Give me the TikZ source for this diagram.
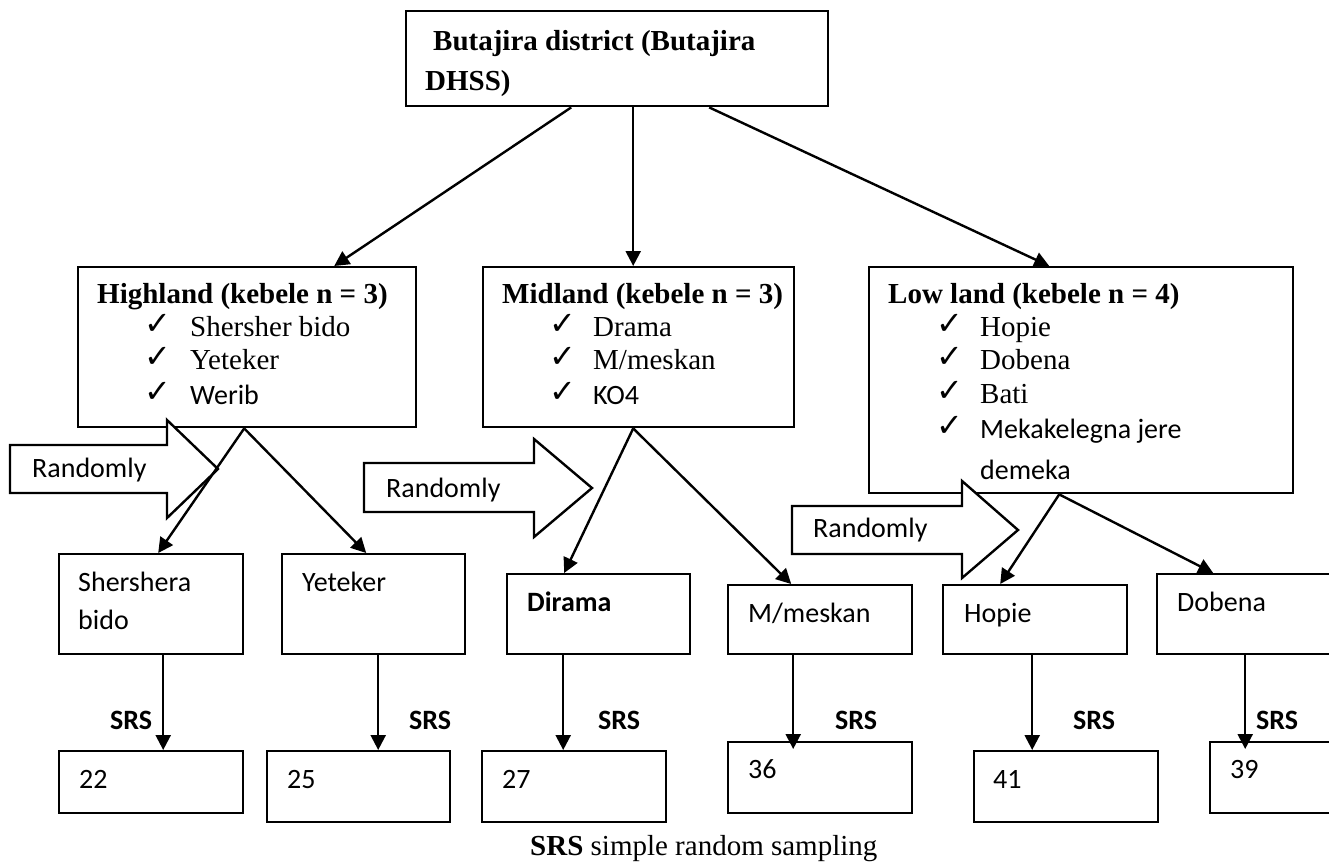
\documentclass[tikz,border=0pt]{standalone}
\usepackage{fontspec}
\setmainfont{Liberation Serif}
\newfontfamily\calfont{Carlito}
\newfontfamily\chkfont{DejaVu Sans}
\usetikzlibrary{arrows.meta}
\newcommand{\bx}[5]{\node[box, anchor=north west, minimum width={#4pt-#2pt}, minimum height={#5pt-#3pt}] (#1) at (#2,#3) {};}
\begin{document}
\begin{tikzpicture}[x=1pt,y=-1pt,
  box/.style={draw, line width=2.4pt, inner sep=0pt},
  arr/.style={line width=2.4pt, -{Triangle[length=15pt,width=15pt]}},
  blk/.style={draw, line width=2.4pt, fill=white, line join=miter},
  hd/.style={inner sep=0pt, anchor=base west, font=\fontsize{29}{34}\selectfont\bfseries},
  tm/.style={inner sep=0pt, anchor=base west, font=\fontsize{29}{34}\selectfont},
  cb/.style={inner sep=0pt, anchor=base west, font=\calfont\fontsize{28}{34}\selectfont},
  cbb/.style={inner sep=0pt, anchor=base west, font=\calfont\fontsize{28}{34}\selectfont\bfseries},
  ck/.style={inner sep=0pt, anchor=base west, font=\chkfont\fontsize{32}{36}\selectfont}]
\path[use as bounding box] (0,0) rectangle (1329,865);
\clip (0,0) rectangle (1329,865);

% boxes
\bx{top}{405}{10}{827}{105}
\bx{high}{77}{266}{415}{426}
\bx{mid}{482}{266}{793}{426}
\bx{low}{868}{266}{1292}{492}
\bx{sh}{58}{553}{242}{653}
\bx{ye}{281}{553}{464}{653}
\bx{di}{506}{573}{689}{653}
\bx{mm}{727}{584}{911}{653}
\bx{ho}{942}{584}{1126}{653}
\bx{do}{1156}{573}{1340}{653}
\bx{n22}{58}{750}{242}{812}
\bx{n25}{266}{750}{449}{821}
\bx{n27}{481}{750}{665}{821}
\bx{n36}{727}{741}{911}{812}
\bx{n41}{973}{750}{1157}{821}
\bx{n39}{1209}{741}{1340}{812}

% top texts
\node[hd] (t1) at (433,50) {Butajira district (Butajira};
\node[hd] (t2) at (425,90) {DHSS)};

% highland
\node[hd] (h0) at (97,303) {Highland (kebele n = 3)};
\node[ck] (hc1) at (144,334) {✓};
\node[ck] (hc2) at (144,367) {✓};
\node[ck] (hc3) at (144,402) {✓};
\node[tm] (h1) at (190,336) {Shersher bido};
\node[tm] (h2) at (190,369) {Yeteker};
\node[cb] (h3) at (190,404) {Werib};

% midland
\node[hd] (m0) at (502,303) {Midland (kebele n = 3)};
\node[ck] (mc1) at (549,334) {✓};
\node[ck] (mc2) at (549,367) {✓};
\node[ck] (mc3) at (549,402) {✓};
\node[tm] (m1) at (593,336) {Drama};
\node[tm] (m2) at (593,369) {M/meskan};
\node[cb] (m3) at (593,404) {KO4};

% lowland
\node[hd] (l0) at (888,303) {Low land (kebele n = 4)};
\node[ck] (lc1) at (936,334) {✓};
\node[ck] (lc2) at (936,367) {✓};
\node[ck] (lc3) at (936,401) {✓};
\node[ck] (lc4) at (936,436) {✓};
\node[tm] (l1) at (980,336) {Hopie};
\node[tm] (l2) at (980,369) {Dobena};
\node[tm] (l3) at (980,403) {Bati};
\node[cb] (l4) at (980,438) {Mekakelegna jere};
\node[cb] (l5) at (980,479) {demeka};

% block arrows
\draw[blk] (10,445) -- (167,445) -- (167,420) -- (218,469) -- (167,518) -- (167,493) -- (10,493) -- cycle;
\node[cb] (r1) at (32,477) {Randomly};
\draw[blk] (364,463) -- (534,463) -- (534,439) -- (592,488) -- (534,537) -- (534,512) -- (364,512) -- cycle;
\node[cb] (r2) at (386,497) {Randomly};
\draw[blk] (792,506) -- (962,506) -- (962,481) -- (1018,530) -- (962,578) -- (962,554) -- (792,554) -- cycle;
\node[cb] (r3) at (813,537) {Randomly};

% level-2 texts
\node[cb] (s1) at (78,591) {Shershera};
\node[cb] (s2) at (78,629) {bido};
\node[cb] (y1) at (302,591) {Yeteker};
\node[cbb] (d1) at (527,611) {Dirama};
\node[cb] (mm1) at (748,622) {M/meskan};
\node[cb] (ho1) at (964,622) {Hopie};
\node[cb] (do1) at (1177,611) {Dobena};

% numbers
\node[cb] (v22) at (79,788) {22};
\node[cb] (v25) at (287,788) {25};
\node[cb] (v27) at (502,788) {27};
\node[cb] (v36) at (748,778) {36};
\node[cb] (v41) at (993,788) {41};
\node[cb] (v39) at (1230,778) {39};

% SRS labels
\node[cbb] (q1) at (110,729) {SRS};
\node[cbb] (q2) at (409,729) {SRS};
\node[cbb] (q3) at (598,729) {SRS};
\node[cbb] (q4) at (835,729) {SRS};
\node[cbb] (q5) at (1073,729) {SRS};
\node[cbb] (q6) at (1256,729) {SRS};

% connectors level 1
\draw[arr] ([xshift=-46pt]top.south) -- ([xshift=87pt]high.north);
\draw[arr] ([xshift=16pt]top.south) -- ([xshift=-5.5pt]mid.north);
\draw[arr] ([xshift=92pt]top.south) -- ([xshift=-32pt]low.north);

% connectors level 2
\draw[arr] ([xshift=-3pt]high.south) -- ([xshift=7pt]sh.north);
\draw[arr] ([xshift=-3pt]high.south) -- ([xshift=-7.5pt]ye.north);
\draw[arr] ([xshift=-5.5pt]mid.south) -- ([xshift=-34.5pt]di.north);
\draw[arr] ([xshift=-5.5pt]mid.south) -- ([xshift=-29pt]mm.north);
\draw[arr] ([xshift=-22pt]low.south) -- ([xshift=-35pt]ho.north);
\draw[arr] ([xshift=-22pt]low.south) -- ([xshift=-36pt]do.north);

% SRS connectors
\draw[arr] ([xshift=12pt]sh.south) -- ([xshift=12pt]n22.north);
\draw[arr] ([xshift=4.5pt]ye.south) -- ([xshift=19.5pt]n25.north);
\draw[arr] ([xshift=-35.5pt]di.south) -- ([xshift=-11pt]n27.north);
\draw[arr] ([xshift=-27pt]mm.south) -- ([xshift=-27pt,yshift=-8pt]n36.north);
\draw[arr] ([xshift=-3pt]ho.south) -- ([xshift=-34pt]n41.north);
\draw[arr] ([xshift=-4pt]do.south) -- ([xshift=-30.5pt,yshift=-8pt]n39.north);

% caption
\node[tm] (cap) at (530,855) {\textbf{SRS} simple random sampling};
\end{tikzpicture}
\end{document}
